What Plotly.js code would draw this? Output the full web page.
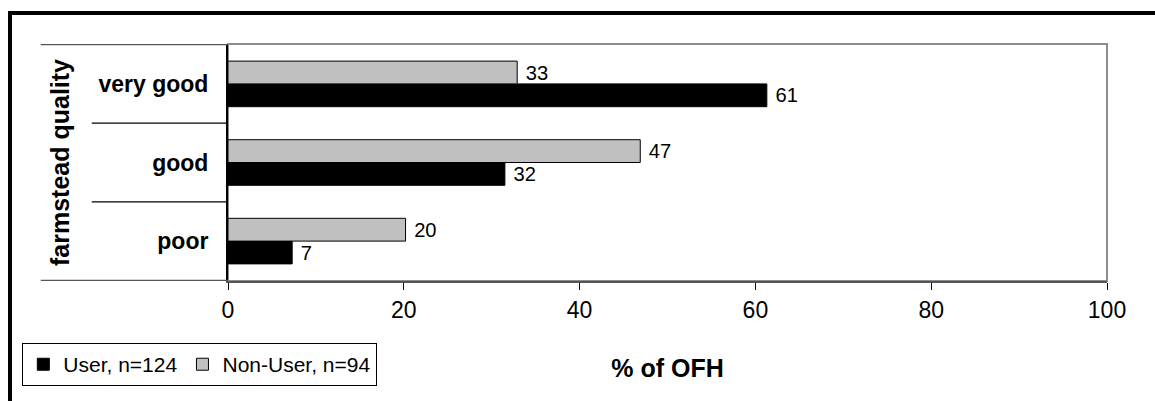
<!DOCTYPE html>
<html>
<head>
<meta charset="utf-8">
<script src="https://cdn.plot.ly/plotly-3.0.1.min.js"></script>
<style>
html,body{margin:0;padding:0;background:#fff;}
#wrap{position:relative;width:1155px;height:401px;overflow:hidden;}
#chart{position:absolute;left:0;top:0;width:1155px;height:401px;}
#frame{position:absolute;left:8px;top:11px;width:1300px;height:500px;border-left:4px solid #000;border-top:4px solid #000;pointer-events:none;}
</style>
</head>
<body>
<div id="wrap"><div id="chart"></div><div id="frame"></div></div>
<script>
const categories = ['poor', 'good', 'very good'];
const userValues = [7.3, 31.5, 61.3];
const nonUserValues = [20.2, 46.9, 32.9];
const seriesNames = ['User, n=124', 'Non-User, n=94'];
const xTicks = [0, 20, 40, 60, 80, 100];
const xTitle = '% of OFH';
const yTitle = 'farmstead quality';

const FONT = 'Liberation Sans, Arial, sans-serif';

const traces = [
  {type:'bar', orientation:'h', name:seriesNames[0], y:categories, x:userValues,
   marker:{color:'#000000', line:{color:'#000000', width:1}},
   texttemplate:' %{x:.0f}', textposition:'outside', cliponaxis:false,
   textfont:{family:FONT, size:23, color:'#000'}, hoverinfo:'skip'},
  {type:'bar', orientation:'h', name:seriesNames[1], y:categories, x:nonUserValues,
   marker:{color:'#C0C0C0', line:{color:'#000000', width:1}},
   texttemplate:' %{x:.0f}', textposition:'outside', cliponaxis:false,
   textfont:{family:FONT, size:23, color:'#000'}, hoverinfo:'skip'}
];

const shapes = [];
const bounds = [-0.5, 0.5, 1.5, 2.5];
bounds.forEach((b, i) => {
  const outer = (i === 0 || i === bounds.length - 1);
  shapes.push({type:'line', xref:'paper', yref:'y', x0: outer ? -0.213 : -0.155, x1:0, y0:b, y1:b,
    line:{color: outer ? '#555' : '#000', width:1.2}});
});
shapes.push({type:'rect', xref:'paper', yref:'paper', x0:0, x1:1, y0:0, y1:1,
  line:{color:'#8c8c8c', width:2}, layer:'below'});

const layout = {
  width:1155, height:401,
  margin:{l:228, r:48, t:44, b:120},
  paper_bgcolor:'#fff', plot_bgcolor:'#fff',
  font:{family:FONT, size:23, color:'#000'},
  barmode:'group', bargap:0.42, bargroupgap:0,
  showlegend:true,
  legend:{orientation:'h', x:-0.234, xanchor:'left', y:-0.262, yanchor:'top',
    bordercolor:'#000', borderwidth:1, bgcolor:'#fff',
    font:{family:FONT, size:21, color:'#000'}, traceorder:'normal',
    itemwidth:30, tracegroupgap:0},
  xaxis:{range:[0,100], tickvals:xTicks, ticktext:xTicks.map(String),
    showgrid:false, zeroline:false, showline:true, linecolor:'#555', linewidth:2,
    ticks:'outside', ticklen:7, tickcolor:'#000', tickwidth:1,
    tickfont:{family:FONT, size:23, color:'#000'},
    title:{text:'<b>'+xTitle+'</b>', font:{family:FONT, size:25, color:'#000'}, standoff:38},
    fixedrange:true},
  yaxis:{type:'category', categoryorder:'array', categoryarray:categories,
    showgrid:false, zeroline:false, showline:true, linecolor:'#000', linewidth:2,
    ticks:'', ticklabelstandoff:13,
    tickfont:{family:FONT, size:23, color:'#000', weight:'bold'},
    title:{text:'<b>'+yTitle+'</b>', font:{family:FONT, size:25, color:'#000'}, standoff:22},
    fixedrange:true},
  shapes:shapes
};

Plotly.newPlot('chart', traces, layout, {displayModeBar:false, staticPlot:true});
</script>
</body>
</html>
